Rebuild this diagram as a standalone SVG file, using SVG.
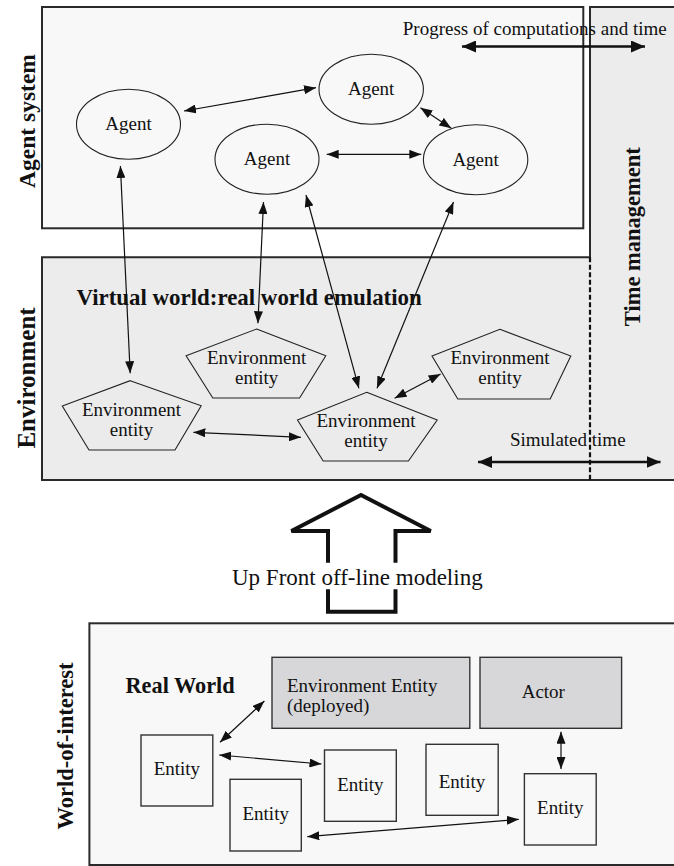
<svg xmlns="http://www.w3.org/2000/svg" width="674" height="866" viewBox="0 0 674 866">
<defs>
<style>
text{font-family:"Liberation Serif","Times New Roman",serif;fill:#111}
.t{font-size:19px}
.c{text-anchor:middle}
.b{font-weight:bold}
.area{stroke:#2a2a2a;stroke-width:2}
.ell{fill:none;stroke:#222;stroke-width:1.1}
.pent{fill:#ebebeb;stroke:#222;stroke-width:1.1}
.ent{fill:#f8f8f8;stroke:#333;stroke-width:1.4}
.gbox{fill:#d7d7d9;stroke:#333;stroke-width:1.4}
.ar{fill:none;stroke:#111;stroke-width:1.2;marker-start:url(#h);marker-end:url(#h)}
.tar{fill:none;stroke:#111;stroke-width:2.6;marker-start:url(#H);marker-end:url(#H)}
</style>
<marker id="h" markerUnits="userSpaceOnUse" markerWidth="12" markerHeight="9" refX="12" refY="4.5" orient="auto-start-reverse"><path d="M0,0 L12,4.5 L0,9 z" fill="#111"/></marker>
<marker id="H" markerUnits="userSpaceOnUse" markerWidth="14" markerHeight="12" refX="14" refY="6" orient="auto-start-reverse"><path d="M0,0 L14,6 L0,12 z" fill="#111"/></marker>
</defs>
<rect width="674" height="866" fill="#fff"/>
<g id="agent-system-area">
<rect class="area" x="42" y="7" width="541.3" height="221.3" fill="#f8f8f8"/>
</g>
<g id="environment-area">
<path class="area" d="M42,257.3 H590 V7 H690 V480 H42 Z" fill="#ececec"/>
<line x1="590" y1="257.3" x2="590" y2="480" stroke="#111" stroke-width="2.2" stroke-dasharray="5,2.5"/>
</g>
<g id="world-area">
<rect class="area" x="89.4" y="623.3" width="600" height="241.7" fill="#f8f8f8"/>
</g>
<g id="labels">
<text class="b" font-size="23.5" text-anchor="middle" transform="translate(35,121) rotate(-90)">Agent system</text>
<text class="b" font-size="25" text-anchor="middle" transform="translate(35,378) rotate(-90)">Environment</text>
<text class="b" font-size="22.5" text-anchor="middle" transform="translate(73,746) rotate(-90)">World-of-interest</text>
<text class="b" font-size="22.5" text-anchor="middle" transform="translate(640,236.7) rotate(-90)">Time management</text>
<text class="t" x="402.8" y="35">Progress of computations and time</text>
<text class="b" font-size="22.9" x="76.5" y="305">Virtual world:real world emulation</text>
<text class="t" x="510" y="446">Simulated time</text>
<text font-size="23" x="232" y="585">Up Front off-line modeling</text>
<text class="b" font-size="22.3" x="125.5" y="692.7">Real World</text>
</g>
<g id="agent-1"><ellipse class="ell" cx="128.5" cy="124.3" rx="52" ry="35"/><text class="t c" x="128.5" y="130">Agent</text></g>
<g id="agent-2"><ellipse class="ell" cx="371.2" cy="89.2" rx="52.2" ry="35"/><text class="t c" x="371.2" y="95">Agent</text></g>
<g id="agent-3"><ellipse class="ell" cx="267" cy="159.2" rx="52" ry="35"/><text class="t c" x="267" y="165">Agent</text></g>
<g id="agent-4"><ellipse class="ell" cx="475.6" cy="159.7" rx="52.2" ry="35"/><text class="t c" x="475.6" y="165.5">Agent</text></g>
<g id="env-entity-1"><polygon class="pent" points="130.2,380.7 201.2,405.7 175,450 89,450 62.3,406"/><text class="t c" x="131.5" y="416">Environment</text><text class="t c" x="131.5" y="436">entity</text></g>
<g id="env-entity-2"><polygon class="pent" points="256.6,329 325.8,355.7 299.6,398 212.8,398 186.1,355.7"/><text class="t c" x="256.6" y="364">Environment</text><text class="t c" x="256.6" y="384">entity</text></g>
<g id="env-entity-3"><polygon class="pent" points="366.7,392.3 437.2,420 408.4,461 323.2,461 297.5,420"/><text class="t c" x="366" y="427">Environment</text><text class="t c" x="366" y="447.3">entity</text></g>
<g id="env-entity-4"><polygon class="pent" points="499.9,329.3 570.8,356 550.2,399 457.8,399 432,356"/><text class="t c" x="500" y="364">Environment</text><text class="t c" x="500" y="384">entity</text></g>
<g id="modeling-arrow" fill="none" stroke="#111" stroke-width="4" stroke-linejoin="miter">
<path d="M328,562.7 V531 H291.4 L361,495 L430.7,531 H395.5 V562.7"/>
<path d="M328,589.3 V611.7 H395.5 V589.3"/>
</g>
<g id="env-entity-deployed"><rect class="gbox" x="272" y="657.3" width="197.8" height="71"/><text class="t" x="287" y="691.7">Environment Entity</text><text class="t" x="287" y="712">(deployed)</text></g>
<g id="actor"><rect class="gbox" x="480" y="657.3" width="141.6" height="71"/><text class="t c" x="543.3" y="698">Actor</text></g>
<g id="entity-1"><rect class="ent" x="141" y="735" width="71.8" height="71"/><text class="t c" x="176.9" y="775">Entity</text></g>
<g id="entity-2"><rect class="ent" x="230" y="779.3" width="71.3" height="71.7"/><text class="t c" x="265.7" y="820">Entity</text></g>
<g id="entity-3"><rect class="ent" x="324.5" y="750" width="71.8" height="71.3"/><text class="t c" x="360.4" y="790.7">Entity</text></g>
<g id="entity-4"><rect class="ent" x="426" y="744.3" width="72.2" height="71"/><text class="t c" x="462" y="788.3">Entity</text></g>
<g id="entity-5"><rect class="ent" x="524.4" y="773.7" width="71.8" height="71.3"/><text class="t c" x="560.3" y="814.3">Entity</text></g>
<g id="connectors">
<line class="tar" x1="462" y1="46.5" x2="645" y2="46.5"/>
<line class="tar" x1="478" y1="462" x2="660.5" y2="462"/>
<line class="ar" x1="184" y1="111" x2="316" y2="87.7"/>
<line class="ar" x1="420.4" y1="107.7" x2="451.3" y2="128.3"/>
<line class="ar" x1="326.7" y1="154.3" x2="421.3" y2="154.3"/>
<line class="ar" x1="120.4" y1="166" x2="130.2" y2="373.3"/>
<line class="ar" x1="263.5" y1="202" x2="257.9" y2="323.3"/>
<line class="ar" x1="306" y1="195" x2="358.9" y2="388.3"/>
<line class="ar" x1="453.5" y1="202" x2="377" y2="388.3"/>
<line class="ar" x1="193.4" y1="432.3" x2="300.9" y2="437.3"/>
<line class="ar" x1="394.6" y1="398.3" x2="440.6" y2="374"/>
<line class="ar" x1="220" y1="742.3" x2="264.4" y2="701"/>
<line class="ar" x1="219.2" y1="755" x2="321.5" y2="764"/>
<line class="ar" x1="561" y1="731.7" x2="561" y2="769"/>
<line class="ar" x1="307.3" y1="836.7" x2="518.8" y2="819.3"/>
</g>
</svg>
